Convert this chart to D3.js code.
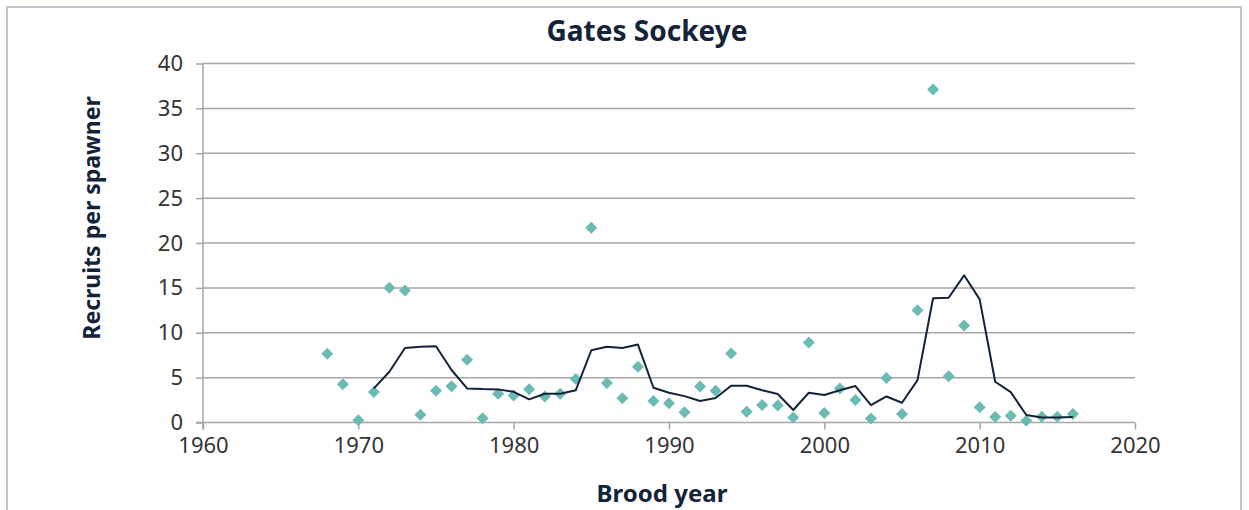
<!DOCTYPE html>
<html>
<head>
<meta charset="utf-8">
<script src="https://cdn.jsdelivr.net/npm/d3@7"></script>
<style>
  body { margin: 0; background: #fff; }
  .axis text { font-family: "Noto Sans", sans-serif; font-size: 22px; fill: #333; }
  .axis path, .axis line { stroke: #a6a6a6; stroke-width: 1.5; }
</style>
</head>
<body>
<script>
var w = 1249;
var h = 510;

// brood years with recruits per spawner
var years = [1968, 1969, 1970, 1971, 1972, 1973, 1974, 1975, 1976, 1977, 1978, 1979,
  1980, 1981, 1982, 1983, 1984, 1985, 1986, 1987, 1988, 1989, 1990, 1991, 1992, 1993,
  1994, 1995, 1996, 1997, 1998, 1999, 2000, 2001, 2002, 2003, 2004, 2005, 2006, 2007,
  2008, 2009, 2010, 2011, 2012, 2013, 2014, 2015, 2016];
var recruits = [7.65, 4.25, 0.25, 3.4, 15.0, 14.7, 0.85, 3.55, 4.05, 7.0, 0.48, 3.2,
  3.0, 3.7, 2.9, 3.2, 4.85, 21.7, 4.4, 2.7, 6.2, 2.4, 2.15, 1.15, 4.0, 3.55,
  7.7, 1.2, 1.95, 1.9, 0.55, 8.9, 1.05, 3.8, 2.5, 0.45, 4.95, 0.95, 12.5, 37.1,
  5.15, 10.8, 1.7, 0.6, 0.75, 0.2, 0.65, 0.65, 0.95];

// running average line, starts 1971
var avgYears = d3.range(1971, 2017);
var avgValues = [3.8, 5.65, 8.3, 8.45, 8.5, 5.85, 3.8, 3.72, 3.69, 3.42, 2.58, 3.2,
  3.2, 3.6, 8.05, 8.45, 8.3, 8.68, 3.87, 3.31, 2.94, 2.39, 2.72, 4.09, 4.09, 3.6,
  3.17, 1.39, 3.31, 3.06, 3.6, 4.06, 1.94, 2.9, 2.2, 4.72, 13.85, 13.9, 16.4, 13.72,
  4.54, 3.39, 0.83, 0.56, 0.56, 0.6];

var xTicks = [1960, 1970, 1980, 1990, 2000, 2010, 2020];
var yTicks = [0, 5, 10, 15, 20, 25, 30, 35, 40];

var svg = d3.select("body")
  .append("svg")
  .attr("width", w)
  .attr("height", h);

// outer frame
svg.append("rect")
  .attr("x", 7).attr("y", 7)
  .attr("width", 1234).attr("height", 520)
  .attr("fill", "none")
  .attr("stroke", "#c4c4cc")
  .attr("stroke-width", 2);

var xScale = d3.scaleLinear().domain([1960, 2020]).range([203, 1135]);
var yScale = d3.scaleLinear().domain([0, 40]).range([422.5, 63.5]);

// gridlines
svg.append("g")
  .selectAll("line")
  .data(yTicks.slice(1))
  .enter()
  .append("line")
  .attr("x1", xScale(1960))
  .attr("x2", xScale(2020))
  .attr("y1", d => yScale(d))
  .attr("y2", d => yScale(d))
  .attr("stroke", "#a6a6a6")
  .attr("stroke-width", 1.5);

var yAxis = d3.axisLeft(yScale).tickValues(yTicks).tickSize(7).tickPadding(13);
svg.append("g")
  .attr("class", "axis")
  .attr("transform", `translate(${xScale(1960)}, 0)`)
  .call(yAxis)
  .call(g => g.select(".domain").attr("d", `M0,${yScale(0) + 7}V${yScale(40)}`));

var xAxis = d3.axisBottom(xScale).tickValues(xTicks).tickFormat(d3.format("d")).tickSize(7).tickPadding(8);
svg.append("g")
  .attr("class", "axis")
  .attr("transform", `translate(0, ${yScale(0)})`)
  .call(xAxis)
  .call(g => g.select(".domain").attr("d", `M${xScale(1960) - 7},0H${xScale(2020)}`));

// markers
svg.append("g")
  .selectAll("path")
  .data(years)
  .enter()
  .append("path")
  .attr("d", d3.symbol(d3.symbolSquare, 72))
  .attr("transform", (d, i) => `translate(${xScale(d)},${yScale(recruits[i])}) rotate(45)`)
  .attr("fill", "#6cbab4");

// average line
var line = d3.line()
  .x((d, i) => xScale(avgYears[i]))
  .y(d => yScale(d));

svg.append("path")
  .datum(avgValues)
  .attr("d", line)
  .attr("fill", "none")
  .attr("stroke", "#13233a")
  .attr("stroke-width", 2)
  .attr("stroke-linejoin", "round");

// titles
svg.append("text")
  .attr("x", 647).attr("y", 41)
  .attr("text-anchor", "middle")
  .style("font-family", "'Noto Sans', sans-serif")
  .style("font-weight", "bold")
  .style("font-size", "28px")
  .attr("fill", "#13233a")
  .text("Gates Sockeye");

svg.append("text")
  .attr("x", 662).attr("y", 502)
  .attr("text-anchor", "middle")
  .style("font-family", "'Noto Sans', sans-serif")
  .style("font-weight", "bold")
  .style("font-size", "24px")
  .attr("fill", "#13233a")
  .text("Brood year");

svg.append("text")
  .attr("transform", "translate(100, 218) rotate(-90)")
  .attr("text-anchor", "middle")
  .style("font-family", "'Noto Sans', sans-serif")
  .style("font-weight", "bold")
  .style("font-size", "23px")
  .attr("fill", "#13233a")
  .text("Recruits per spawner");
</script>
</body>
</html>
